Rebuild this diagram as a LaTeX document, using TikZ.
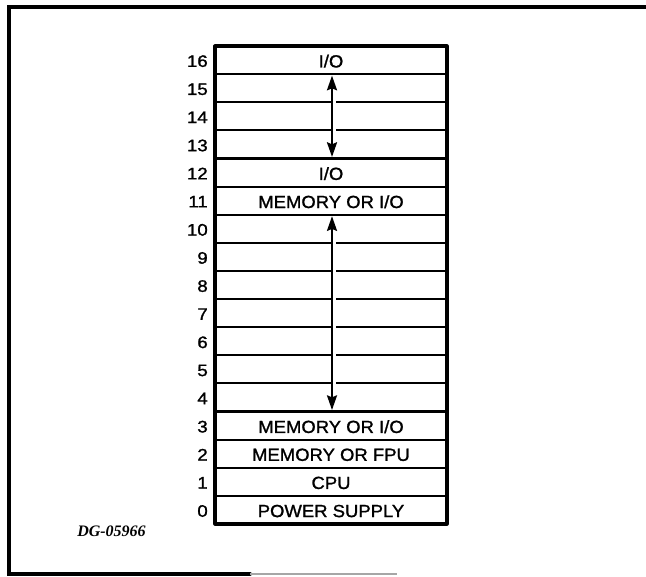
\documentclass[tikz,border=0pt]{standalone}
\usepackage{fontspec}
\setmainfont{Liberation Sans}
\newfontfamily\medsans[FakeBold=1.2]{Liberation Sans}
\newfontfamily\serifit{Liberation Serif}
\usetikzlibrary{arrows.meta}
\newcommand{\slotlbl}[1]{\scalebox{1.05}[1]{#1}}
\newcommand{\slotnum}[1]{\scalebox{1.12}[1]{#1}}
\begin{document}
\begin{tikzpicture}[x=0.75pt,y=-0.75pt,
  lbl/.style={font=\medsans\fontsize{13.2pt}{15pt}\selectfont, inner sep=0pt, text depth=0pt},
  num/.style={font=\medsans\fontsize{12.5pt}{14pt}\selectfont, inner sep=0pt, anchor=east, text depth=0pt},
  sep/.style={line width=1.6pt},
  dblarrow/.style={line width=1.7pt, {Stealth[length=11pt,width=7.5pt,inset=1.5pt]}-{Stealth[length=11pt,width=7.5pt,inset=1.5pt]}},
  frame/.style={line width=3pt, line cap=round},
  rackbox/.style={line width=2.4pt, line join=round}]
\useasboundingbox (0,0) rectangle (646,576);
\pgfmathsetmacro{\rh}{478/17}
% frame
\draw[frame] (646,7) -- (9,7) -- (9,574) -- (250,574);
\draw[line width=2pt, black!35] (250,574) -- (397,574);
% separators
\foreach \j in {1,4,5,6,13,14,15,16}{
  \draw[sep] (215,{46+\j*\rh}) -- (447,{46+\j*\rh});
}
\foreach \j in {2,3,7,8,9,10,11,12}{
  \draw[sep] (215,{46+\j*\rh}) -- (331,{46+\j*\rh});
  \draw[sep] (336,{46+\j*\rh}) -- (447,{46+\j*\rh});
}
% rack outline
\draw[rackbox] (215,46) rectangle (447,524);
% slot numbers
\foreach \k in {0,...,16}{
  \node[num] (n\k) at (208,{46+(16-\k)*\rh+\rh/2+1}) {\slotnum{\k}};
}
% slot labels
\node[lbl] (s16) at (331,{46+0.5*\rh+1}) {\slotlbl{I/O}};
\node[lbl] (s12) at (331,{46+4.5*\rh+1}) {\slotlbl{I/O}};
\node[lbl] (s11) at (331,{46+5.5*\rh+1}) {\slotlbl{MEMORY OR I/O}};
\node[lbl] (s3) at (331,{46+13.5*\rh+1}) {\slotlbl{MEMORY OR I/O}};
\node[lbl] (s2) at (331,{46+14.5*\rh+1}) {\slotlbl{MEMORY OR FPU}};
\node[lbl] (s1) at (331,{46+15.5*\rh+1}) {\slotlbl{CPU}};
\node[lbl] (s0) at (331,{46+16.5*\rh+1}) {\slotlbl{POWER SUPPLY}};
% arrows
\coordinate (a1) at (332,{46+\rh+1.5});
\coordinate (a2) at (332,{46+4*\rh-1.5});
\coordinate (b1) at (332,{46+6*\rh+1.5});
\coordinate (b2) at (332,{46+13*\rh-1.5});
\draw[dblarrow] (a1) -- (a2);
\draw[dblarrow] (b1) -- (b2);
% figure id
\node[font=\serifit\bfseries\itshape\fontsize{12pt}{14pt}\selectfont, anchor=west, inner sep=0pt] (dg) at (77,531) {DG-05966};
\end{tikzpicture}
\end{document}
